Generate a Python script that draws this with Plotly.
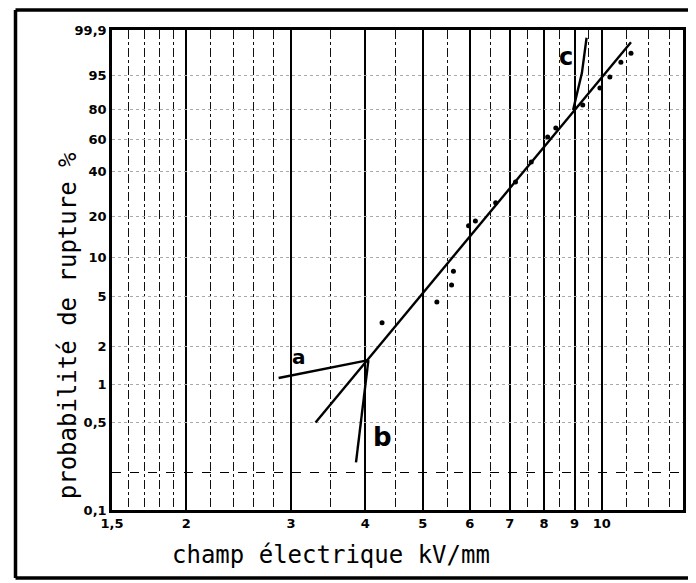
import numpy as np
import plotly.graph_objects as go

# ---- data ----
x_tick_vals = [1.5, 2, 3, 4, 5, 6, 7, 8, 9, 10]
x_tick_text = ["1,5", "2", "3", "4", "5", "6", "7", "8", "9", "10"]
x_minor_vals = [1.6, 1.7, 1.8, 1.9, 2.2, 2.4, 2.6, 2.8, 3.5, 4.5, 5.5, 6.5,
                7.5, 8.5, 9.5, 11, 12, 13]

y_tick_pct = [0.1, 0.5, 1, 2, 5, 10, 20, 40, 60, 80, 95, 99.9]
y_tick_text = ["0,1", "0,5", "1", "2", "5", "10", "20", "40", "60", "80", "95", "99,9"]
y_extra_pct = [0.2]

pts_kv = [4.27, 5.28, 5.59, 5.63, 5.97, 6.13, 6.63, 7.16, 7.61, 8.11, 8.37,
          9.29, 9.93, 10.32, 10.77, 11.2]
pts_pct = [3.1, 4.5, 6.1, 7.8, 17.1, 18.5, 24.9, 34.3, 45.6, 61.8, 67.9,
           82.4, 90.7, 94.5, 97.8, 98.9]

main_kv = [3.30, 11.2]
main_pct = [0.5, 99.6]
a_kv = [2.86, 4.05]
a_pct = [1.13, 1.57]
b_kv = [3.86, 4.05]
b_pct = [0.24, 1.57]
c_kv = [8.95, 9.26, 9.43]
c_pct = [79.5, 95.6, 99.75]


def W(p):
    p = np.asarray(p, dtype=float) / 100.0
    return np.log(-np.log(1.0 - p))


fig = go.Figure()
line_style = dict(color="black", width=2.4)
for xs, ps in [(main_kv, main_pct), (a_kv, a_pct), (b_kv, b_pct), (c_kv, c_pct)]:
    fig.add_trace(go.Scatter(x=xs, y=W(ps), mode="lines", line=line_style,
                             hoverinfo="skip", showlegend=False))
fig.add_trace(go.Scatter(x=pts_kv, y=W(pts_pct), mode="markers",
                         marker=dict(color="black", size=5), showlegend=False))

# page has an 8px body margin: work in screen px, convert to figure px
OFF = 8
FW, FH = 696 - OFF, 583 - OFF
L, R, T, B = 112 - OFF, 686 - OFF, 30 - OFF, 510 - OFF
PW, PH = R - L, B - T


def px(xs):
    return (xs - OFF - L) / PW


def py(ys):
    return (B - (ys - OFF)) / PH


tick_font = dict(family="DejaVu Sans", size=13, color="black", weight="bold")

fig.update_layout(
    width=FW, height=FH,
    margin=dict(l=L, r=FW - R, t=T, b=FH - B),
    paper_bgcolor="white", plot_bgcolor="white",
    showlegend=False,
    xaxis=dict(
        type="log", range=[np.log10(1.5), np.log10(13.7)],
        tickmode="array", tickvals=x_tick_vals, ticktext=x_tick_text,
        tickfont=tick_font,
        showgrid=True, gridcolor="black", gridwidth=1.6,
        minor=dict(tickmode="array", tickvals=x_minor_vals, showgrid=True,
                   gridcolor="#111", gridwidth=1.3, griddash="dashdot", ticks=""),
        showline=True, linecolor="black", linewidth=2.5, mirror=True,
        ticks="", zeroline=False,
    ),
    yaxis=dict(
        range=[float(W(0.1)), float(W(99.9))],
        tickmode="array", tickvals=list(W(y_tick_pct)), ticktext=y_tick_text,
        tickfont=tick_font,
        showgrid=True, gridcolor="#aaa", gridwidth=1, griddash="dot",
        minor=dict(tickmode="array", tickvals=list(W(y_extra_pct)), showgrid=True,
                   gridcolor="black", gridwidth=1.2, griddash="dash", ticks=""),
        showline=True, linecolor="black", linewidth=2.5, mirror=True,
        ticks="", zeroline=False,
    ),
)

# outer frame of the scanned page
frame = dict(type="line", xref="paper", yref="paper",
             line=dict(color="black", width=3.5))
fig.add_shape(**frame, x0=px(15), x1=px(15), y0=py(10), y1=py(578))
fig.add_shape(**frame, x0=px(15), x1=px(700), y0=py(10), y1=py(10))
fig.add_shape(**frame, x0=px(15), x1=px(700), y0=py(578), y1=py(578))

mono = dict(family="DejaVu Sans Mono", size=24, color="black")
fig.add_annotation(text="champ électrique kV/mm", xref="paper", yref="paper",
                   x=px(332), y=py(555), showarrow=False, font=mono,
                   xanchor="center", yanchor="middle")
fig.add_annotation(text="probabilité de rupture %", xref="paper", yref="paper",
                   x=px(68), y=py(326), showarrow=False, font=mono, textangle=-90,
                   xanchor="center", yanchor="middle")

lab = dict(family="DejaVu Sans", color="black", weight="bold")
fig.add_annotation(text="a", x=np.log10(3.09), y=-4.09, showarrow=False,
                   font=dict(**lab, size=20))
fig.add_annotation(text="b", x=np.log10(4.27), y=-5.56, showarrow=False,
                   font=dict(**lab, size=26))
fig.add_annotation(text="c", x=np.log10(8.72), y=1.435, showarrow=False,
                   font=dict(**lab, size=24))

fig.write_html("out.html")
